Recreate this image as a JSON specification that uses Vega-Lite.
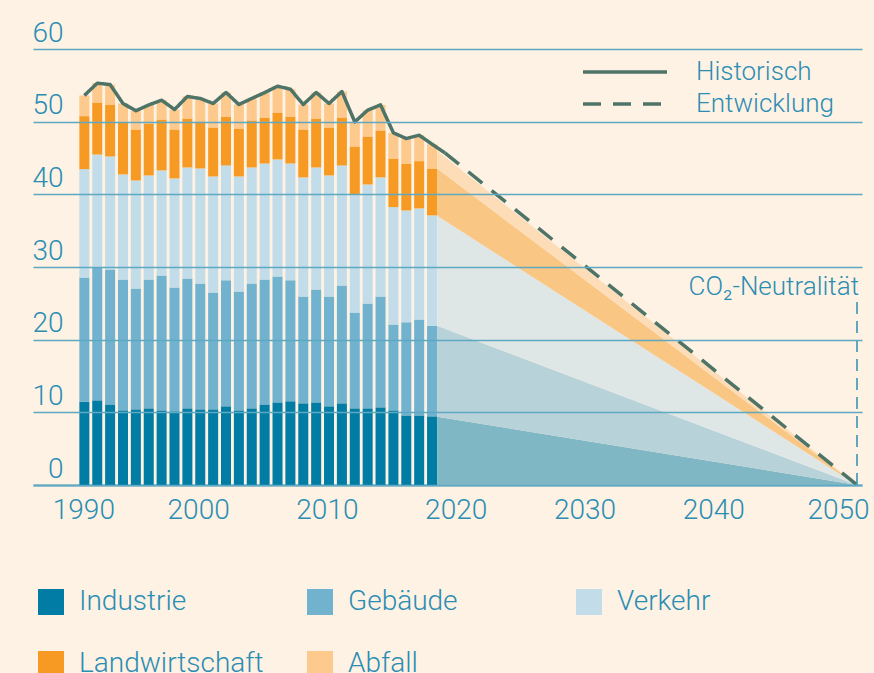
{
  "$schema": "https://vega.github.io/schema/vega-lite/v6.json",
  "width": 829,
  "height": 436,
  "autosize": {"type": "none"},
  "padding": {"left": 33, "top": 49, "right": 12, "bottom": 188},
  "background": "#fdf2e3",
  "config": {
    "view": {"stroke": null},
    "font": "Roboto",
    "text": {"font": "Roboto"}
  },
  "resolve": {"scale": {"color": "independent"}},
  "datasets": {
    "hist": [
      {"year":1990,"s":"Industrie","o":1,"v":11.46},{"year":1990,"s":"Gebäude","o":2,"v":17.11},{"year":1990,"s":"Verkehr","o":3,"v":14.90},{"year":1990,"s":"Landwirtschaft","o":4,"v":7.29},{"year":1990,"s":"Abfall","o":5,"v":2.84},
      {"year":1991,"s":"Industrie","o":1,"v":11.65},{"year":1991,"s":"Gebäude","o":2,"v":18.38},{"year":1991,"s":"Verkehr","o":3,"v":15.45},{"year":1991,"s":"Landwirtschaft","o":4,"v":7.16},{"year":1991,"s":"Abfall","o":5,"v":2.66},
      {"year":1992,"s":"Industrie","o":1,"v":11.09},{"year":1992,"s":"Gebäude","o":2,"v":18.58},{"year":1992,"s":"Verkehr","o":3,"v":15.54},{"year":1992,"s":"Landwirtschaft","o":4,"v":7.15},{"year":1992,"s":"Abfall","o":5,"v":2.74},
      {"year":1993,"s":"Industrie","o":1,"v":10.27},{"year":1993,"s":"Gebäude","o":2,"v":18.02},{"year":1993,"s":"Verkehr","o":3,"v":14.45},{"year":1993,"s":"Landwirtschaft","o":4,"v":7.15},{"year":1993,"s":"Abfall","o":5,"v":2.61},
      {"year":1994,"s":"Industrie","o":1,"v":10.41},{"year":1994,"s":"Gebäude","o":2,"v":16.64},{"year":1994,"s":"Verkehr","o":3,"v":14.86},{"year":1994,"s":"Landwirtschaft","o":4,"v":7.02},{"year":1994,"s":"Abfall","o":5,"v":2.57},
      {"year":1995,"s":"Industrie","o":1,"v":10.55},{"year":1995,"s":"Gebäude","o":2,"v":17.74},{"year":1995,"s":"Verkehr","o":3,"v":14.31},{"year":1995,"s":"Landwirtschaft","o":4,"v":7.15},{"year":1995,"s":"Abfall","o":5,"v":2.55},
      {"year":1996,"s":"Industrie","o":1,"v":10.27},{"year":1996,"s":"Gebäude","o":2,"v":18.57},{"year":1996,"s":"Verkehr","o":3,"v":14.45},{"year":1996,"s":"Landwirtschaft","o":4,"v":7.01},{"year":1996,"s":"Abfall","o":5,"v":2.66},
      {"year":1997,"s":"Industrie","o":1,"v":10.14},{"year":1997,"s":"Gebäude","o":2,"v":17.05},{"year":1997,"s":"Verkehr","o":3,"v":15.00},{"year":1997,"s":"Landwirtschaft","o":4,"v":6.74},{"year":1997,"s":"Abfall","o":5,"v":2.74},
      {"year":1998,"s":"Industrie","o":1,"v":10.55},{"year":1998,"s":"Gebäude","o":2,"v":17.88},{"year":1998,"s":"Verkehr","o":3,"v":15.27},{"year":1998,"s":"Landwirtschaft","o":4,"v":6.74},{"year":1998,"s":"Abfall","o":5,"v":3.03},
      {"year":1999,"s":"Industrie","o":1,"v":10.41},{"year":1999,"s":"Gebäude","o":2,"v":17.33},{"year":1999,"s":"Verkehr","o":3,"v":15.82},{"year":1999,"s":"Landwirtschaft","o":4,"v":6.47},{"year":1999,"s":"Abfall","o":5,"v":3.16},
      {"year":2000,"s":"Industrie","o":1,"v":10.41},{"year":2000,"s":"Gebäude","o":2,"v":16.09},{"year":2000,"s":"Verkehr","o":3,"v":15.96},{"year":2000,"s":"Landwirtschaft","o":4,"v":6.74},{"year":2000,"s":"Abfall","o":5,"v":3.30},
      {"year":2001,"s":"Industrie","o":1,"v":10.83},{"year":2001,"s":"Gebäude","o":2,"v":17.33},{"year":2001,"s":"Verkehr","o":3,"v":15.81},{"year":2001,"s":"Landwirtschaft","o":4,"v":6.74},{"year":2001,"s":"Abfall","o":5,"v":3.31},
      {"year":2002,"s":"Industrie","o":1,"v":10.27},{"year":2002,"s":"Gebäude","o":2,"v":16.37},{"year":2002,"s":"Verkehr","o":3,"v":15.82},{"year":2002,"s":"Landwirtschaft","o":4,"v":6.60},{"year":2002,"s":"Abfall","o":5,"v":3.30},
      {"year":2003,"s":"Industrie","o":1,"v":10.55},{"year":2003,"s":"Gebäude","o":2,"v":17.19},{"year":2003,"s":"Verkehr","o":3,"v":15.96},{"year":2003,"s":"Landwirtschaft","o":4,"v":6.47},{"year":2003,"s":"Abfall","o":5,"v":3.02},
      {"year":2004,"s":"Industrie","o":1,"v":11.09},{"year":2004,"s":"Gebäude","o":2,"v":17.20},{"year":2004,"s":"Verkehr","o":3,"v":15.95},{"year":2004,"s":"Landwirtschaft","o":4,"v":6.34},{"year":2004,"s":"Abfall","o":5,"v":3.42},
      {"year":2005,"s":"Industrie","o":1,"v":11.37},{"year":2005,"s":"Gebäude","o":2,"v":17.33},{"year":2005,"s":"Verkehr","o":3,"v":16.10},{"year":2005,"s":"Landwirtschaft","o":4,"v":6.46},{"year":2005,"s":"Abfall","o":5,"v":3.62},
      {"year":2006,"s":"Industrie","o":1,"v":11.51},{"year":2006,"s":"Gebäude","o":2,"v":16.65},{"year":2006,"s":"Verkehr","o":3,"v":16.08},{"year":2006,"s":"Landwirtschaft","o":4,"v":6.47},{"year":2006,"s":"Abfall","o":5,"v":3.76},
      {"year":2007,"s":"Industrie","o":1,"v":11.24},{"year":2007,"s":"Gebäude","o":2,"v":14.71},{"year":2007,"s":"Verkehr","o":3,"v":16.38},{"year":2007,"s":"Landwirtschaft","o":4,"v":6.60},{"year":2007,"s":"Abfall","o":5,"v":3.43},
      {"year":2008,"s":"Industrie","o":1,"v":11.37},{"year":2008,"s":"Gebäude","o":2,"v":15.55},{"year":2008,"s":"Verkehr","o":3,"v":16.78},{"year":2008,"s":"Landwirtschaft","o":4,"v":6.74},{"year":2008,"s":"Abfall","o":5,"v":3.58},
      {"year":2009,"s":"Industrie","o":1,"v":10.83},{"year":2009,"s":"Gebäude","o":2,"v":15.12},{"year":2009,"s":"Verkehr","o":3,"v":16.65},{"year":2009,"s":"Landwirtschaft","o":4,"v":6.60},{"year":2009,"s":"Abfall","o":5,"v":3.30},
      {"year":2010,"s":"Industrie","o":1,"v":11.24},{"year":2010,"s":"Gebäude","o":2,"v":16.23},{"year":2010,"s":"Verkehr","o":3,"v":16.50},{"year":2010,"s":"Landwirtschaft","o":4,"v":6.61},{"year":2010,"s":"Abfall","o":5,"v":3.57},
      {"year":2011,"s":"Industrie","o":1,"v":10.55},{"year":2011,"s":"Gebäude","o":2,"v":13.20},{"year":2011,"s":"Verkehr","o":3,"v":16.23},{"year":2011,"s":"Landwirtschaft","o":4,"v":6.61},{"year":2011,"s":"Abfall","o":5,"v":3.38},
      {"year":2012,"s":"Industrie","o":1,"v":10.55},{"year":2012,"s":"Gebäude","o":2,"v":14.44},{"year":2012,"s":"Verkehr","o":3,"v":16.37},{"year":2012,"s":"Landwirtschaft","o":4,"v":6.60},{"year":2012,"s":"Abfall","o":5,"v":3.62},
      {"year":2013,"s":"Industrie","o":1,"v":10.69},{"year":2013,"s":"Gebäude","o":2,"v":15.26},{"year":2013,"s":"Verkehr","o":3,"v":16.38},{"year":2013,"s":"Landwirtschaft","o":4,"v":6.46},{"year":2013,"s":"Abfall","o":5,"v":3.52},
      {"year":2014,"s":"Industrie","o":1,"v":10.27},{"year":2014,"s":"Gebäude","o":2,"v":11.83},{"year":2014,"s":"Verkehr","o":3,"v":16.14},{"year":2014,"s":"Landwirtschaft","o":4,"v":6.69},{"year":2014,"s":"Abfall","o":5,"v":3.53},
      {"year":2015,"s":"Industrie","o":1,"v":9.58},{"year":2015,"s":"Gebäude","o":2,"v":12.80},{"year":2015,"s":"Verkehr","o":3,"v":15.40},{"year":2015,"s":"Landwirtschaft","o":4,"v":6.46},{"year":2015,"s":"Abfall","o":5,"v":3.44},
      {"year":2016,"s":"Industrie","o":1,"v":9.58},{"year":2016,"s":"Gebäude","o":2,"v":13.21},{"year":2016,"s":"Verkehr","o":3,"v":15.27},{"year":2016,"s":"Landwirtschaft","o":4,"v":6.51},{"year":2016,"s":"Abfall","o":5,"v":3.57},
      {"year":2017,"s":"Industrie","o":1,"v":9.45},{"year":2017,"s":"Gebäude","o":2,"v":12.47},{"year":2017,"s":"Verkehr","o":3,"v":15.18},{"year":2017,"s":"Landwirtschaft","o":4,"v":6.46},{"year":2017,"s":"Abfall","o":5,"v":3.34}
    ],
    "proj": [
      {"year":2017.4,"s":"Industrie","o":1,"v":9.4},{"year":2017.4,"s":"Gebäude","o":2,"v":12.5},{"year":2017.4,"s":"Verkehr","o":3,"v":15.15},{"year":2017.4,"s":"Landwirtschaft","o":4,"v":6.5},{"year":2017.4,"s":"Abfall","o":5,"v":2.45},
      {"year":2050,"s":"Industrie","o":1,"v":0},{"year":2050,"s":"Gebäude","o":2,"v":0},{"year":2050,"s":"Verkehr","o":3,"v":0},{"year":2050,"s":"Landwirtschaft","o":4,"v":0},{"year":2050,"s":"Abfall","o":5,"v":0}
    ],
    "lines": [
      {"year":1990,"t":"Historisch","v":53.6},{"year":1991,"t":"Historisch","v":55.3},{"year":1992,"t":"Historisch","v":55.1},{"year":1993,"t":"Historisch","v":52.5},{"year":1994,"t":"Historisch","v":51.5},
      {"year":1995,"t":"Historisch","v":52.3},{"year":1996,"t":"Historisch","v":52.96},{"year":1997,"t":"Historisch","v":51.67},{"year":1998,"t":"Historisch","v":53.47},{"year":1999,"t":"Historisch","v":53.19},
      {"year":2000,"t":"Historisch","v":52.5},{"year":2001,"t":"Historisch","v":54.02},{"year":2002,"t":"Historisch","v":52.36},{"year":2003,"t":"Historisch","v":53.19},{"year":2004,"t":"Historisch","v":54.0},
      {"year":2005,"t":"Historisch","v":54.88},{"year":2006,"t":"Historisch","v":54.47},{"year":2007,"t":"Historisch","v":52.36},{"year":2008,"t":"Historisch","v":54.02},{"year":2009,"t":"Historisch","v":52.5},
      {"year":2010,"t":"Historisch","v":54.15},{"year":2011,"t":"Historisch","v":49.97},{"year":2012,"t":"Historisch","v":51.58},{"year":2013,"t":"Historisch","v":52.31},{"year":2014,"t":"Historisch","v":48.46},
      {"year":2015,"t":"Historisch","v":47.68},{"year":2016,"t":"Historisch","v":48.14},{"year":2017,"t":"Historisch","v":46.9},{"year":2018,"t":"Historisch","v":45.7},
      {"year":2018,"t":"Entwicklung","v":45.7},{"year":2050,"t":"Entwicklung","v":0}
    ],
    "marker": [{"year":2050,"v":0,"v2":25.9,"label":"CO₂-Neutralität"}]
  },
  "layer": [
    {
      "data": {"name": "proj"},
      "mark": {"type": "area", "interpolate": "linear"},
      "encoding": {
        "x": {"field": "year", "type": "quantitative", "scale": {"domain": [1986.4, 2050], "nice": false, "zero": false},
          "axis": {"values": [1990, 2000, 2010, 2020, 2030, 2040, 2050], "format": "d", "title": null, "grid": false, "ticks": false, "tickSize": 0,
            "domain": true, "domainColor": "#4fa1bf", "domainWidth": 2, "labelFlush": false, "labelOverlap": false,
            "labelFontSize": 28, "labelFont": "Roboto", "labelFontWeight": 300, "labelColor": "#2b8db3", "labelBaseline": "top", "labelPadding": 11,
            "labelOffset": {"condition": [{"test": "datum.value == 1990", "value": -1}, {"test": "datum.value == 2050", "value": -19}], "value": -15}}},
        "y": {"field": "v", "type": "quantitative", "stack": "zero", "scale": {"domain": [0, 60], "nice": false}},
        "color": {"field": "s", "type": "nominal", "legend": null,
          "scale": {"domain": ["Industrie", "Gebäude", "Verkehr", "Landwirtschaft", "Abfall"], "range": ["#7fb7c4", "#b7d2d9", "#dfe7e6", "#fac683", "#fdddb8"]}},
        "order": {"field": "o", "type": "quantitative", "sort": "ascending"}
      }
    },
    {
      "data": {"name": "hist"},
      "mark": {"type": "bar", "width": 10},
      "encoding": {
        "x": {"field": "year", "type": "quantitative"},
        "y": {"field": "v", "type": "quantitative", "stack": "zero",
          "axis": {"values": [0, 10, 20, 30, 40, 50, 60], "title": null, "domain": false, "ticks": false, "tickSize": 0,
            "labelAlign": "right", "labelBaseline": "alphabetic", "labelPadding": -30, "labelOffset": -8,
            "labelFontSize": 28, "labelFont": "Roboto", "labelFontWeight": 300, "labelColor": "#2b8db3",
            "grid": true, "gridColor": "#5ea8c2", "gridWidth": 1.5, "zindex": 1}},
        "color": {"field": "s", "type": "nominal",
          "scale": {"domain": ["Industrie", "Gebäude", "Verkehr", "Landwirtschaft", "Abfall"], "range": ["#017ca4", "#71b2cf", "#c2dde9", "#f79a23", "#fec98d"]},
          "legend": {"title": null, "orient": "none", "legendX": 4, "legendY": 539, "direction": "horizontal", "columns": 3, "gridAlign": "all",
            "columnPadding": 42, "rowPadding": 34, "symbolType": "square", "symbolSize": 676, "symbolStrokeWidth": 0, "symbolOpacity": 1,
            "labelFontSize": 28, "labelFont": "Roboto", "labelFontWeight": 300, "labelColor": "#2b8db3", "labelOffset": 14, "labelLimit": 400, "padding": 0}},
        "order": {"field": "o", "type": "quantitative", "sort": "ascending"}
      }
    },
    {
      "data": {"name": "lines"},
      "mark": {"type": "line", "color": "#4e7367", "strokeWidth": 3.5, "strokeJoin": "round"},
      "encoding": {
        "x": {"field": "year", "type": "quantitative"},
        "y": {"field": "v", "type": "quantitative", "stack": null},
        "strokeDash": {"field": "t", "type": "nominal",
          "scale": {"domain": ["Historisch", "Entwicklung"], "range": [[1, 0], [18, 12]]},
          "legend": {"title": null, "orient": "none", "legendX": 579, "legendY": 10, "direction": "vertical", "rowPadding": 6,
            "symbolType": "M-5,0H5", "symbolSize": 282, "symbolStrokeWidth": 3.5, "symbolStrokeColor": "#4e7367",
            "labelFontSize": 26, "labelFont": "Roboto", "labelFontWeight": 300, "labelColor": "#2b8db3", "labelOffset": 58, "labelLimit": 300, "padding": 0}}
      }
    },
    {
      "data": {"name": "marker"},
      "mark": {"type": "rule", "color": "#2b8db3", "strokeWidth": 1.5, "strokeDash": [12, 7]},
      "encoding": {
        "x": {"field": "year", "type": "quantitative"},
        "y": {"field": "v", "type": "quantitative"},
        "y2": {"field": "v2"}
      }
    },
    {
      "data": {"name": "marker"},
      "mark": {"type": "text", "align": "right", "baseline": "alphabetic", "fontSize": 26, "font": "Roboto", "fontWeight": 300, "color": "#2b8db3", "dy": -2, "dx": 2},
      "encoding": {
        "x": {"field": "year", "type": "quantitative"},
        "y": {"field": "v2", "type": "quantitative"},
        "text": {"field": "label"}
      }
    }
  ]
}
